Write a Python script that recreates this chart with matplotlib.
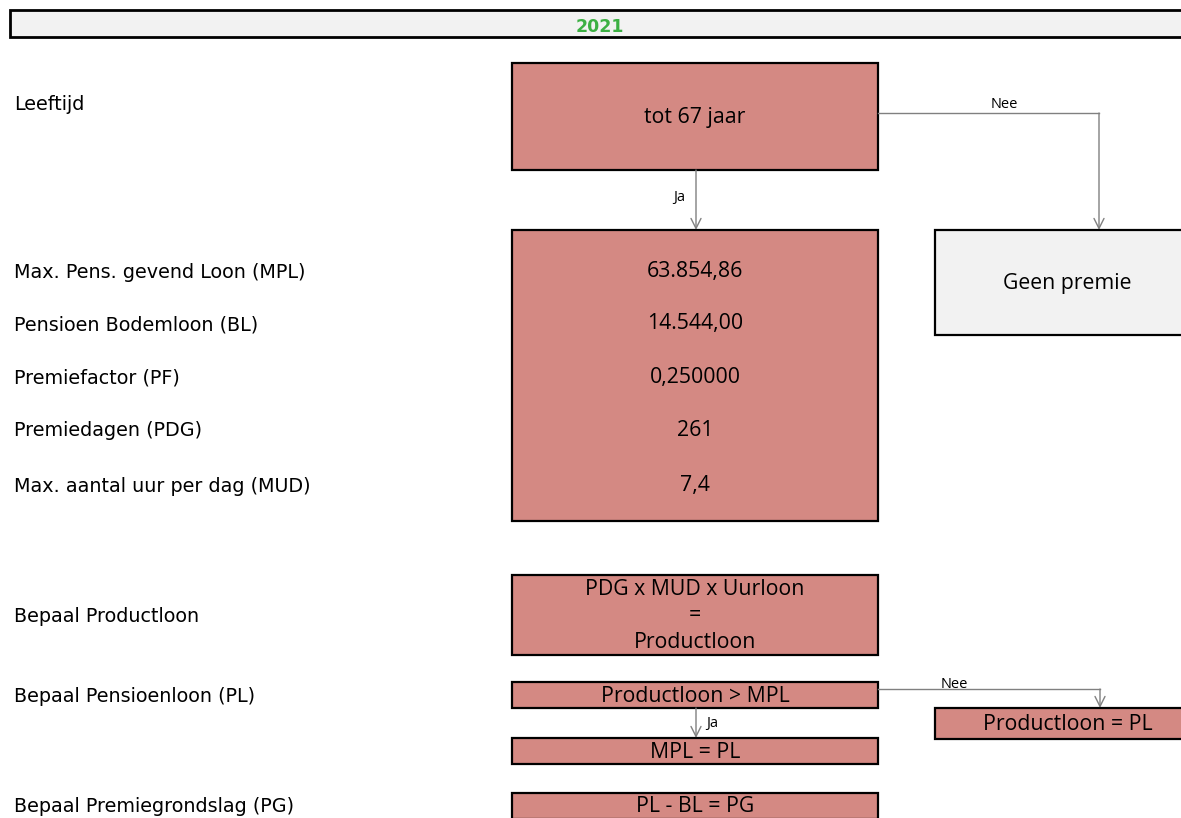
import matplotlib
matplotlib.use("Agg")
import matplotlib.pyplot as plt
from matplotlib.patches import Rectangle

# data
year = "2021"
leftLabels = [ "Leeftijd", "Max. Pens. gevend Loon (MPL)", "Pensioen Bodemloon (BL)",
               "Premiefactor (PF)", "Premiedagen (PDG)", "Max. aantal uur per dag (MUD)",
               "Bepaal Productloon", "Bepaal Pensioenloon (PL)", "Bepaal Premiegrondslag (PG)" ]
paramValues = [ "63.854,86", "14.544,00", "0,250000", "261", "7,4" ]
ageText = "tot 67 jaar"
noPremium = "Geen premie"
productFormula = "PDG x MUD x Uurloon\n=\nProductloon"
plCheck = "Productloon > MPL"
plYes = "MPL = PL"
plNo = "Productloon = PL"
pgFormula = "PL - BL = PG"
yesLabel = "Ja"
noLabel = "Nee"

W, H = 1181, 818
RED = "#d48983"
GREY = "#f2f2f2"
LINE = "#808080"
boxFont = "Open Sans"
boxSize = 15.3

fig = plt.figure( figsize = ( W / 100, H / 100 ), dpi = 100 )
ax = fig.add_axes( [ 0, 0, 1, 1 ] )
ax.set_xlim( 0, W )
ax.set_ylim( H, 0 )
ax.axis( "off" )

def box( x0, y0, x1, y1, color, text = None, size = boxSize, lw = 1.6 ):
    ax.add_patch( Rectangle(( x0, y0 ), x1 - x0, y1 - y0, facecolor = color,
                            edgecolor = "black", linewidth = lw, clip_on = False ))
    if text:
        ax.text(( x0 + x1 ) / 2, ( y0 + y1 ) / 2 + 1, text, ha = "center", va = "center",
                fontsize = size, family = boxFont, linespacing = 1.32 )

def arrow( points, label = None, lpos = None ):
    xs = [ p[ 0 ] for p in points ]
    ys = [ p[ 1 ] for p in points ]
    ax.plot( xs[ :-1 ], ys[ :-1 ], color = LINE, linewidth = 1 )
    ax.annotate( "", xy = points[ -1 ], xytext = points[ -2 ],
                 arrowprops = dict( arrowstyle = "->,head_length=0.6,head_width=0.3",
                                    color = LINE, lw = 1,
                                    shrinkA = 0, shrinkB = 0, mutation_scale = 12 ))
    if label:
        ax.text( lpos[ 0 ], lpos[ 1 ], label, fontsize = 10.5, family = boxFont,
                 ha = "center", va = "center" )

# title bar
ax.add_patch( Rectangle(( 10, 10 ), 1190, 27, facecolor = GREY, edgecolor = "black",
                        linewidth = 2, clip_on = True ))
ax.text( 600, 27, year, color = "#3cb043", fontweight = "bold", fontsize = 12.5,
         ha = "center", va = "center" )

# left labels
labelY = [ 105, 272, 325, 378, 431, 486, 617, 697, 806 ]
for lbl, y in zip( leftLabels, labelY ):
    ax.text( 14, y, lbl, fontsize = 13.8, va = "center", ha = "left" )

# age check
box( 512, 63, 878, 170, RED, ageText )
arrow( [( 696, 170 ), ( 696, 230 )], yesLabel, ( 679, 197 ))
arrow( [( 878, 113 ), ( 1099, 113 ), ( 1099, 230 )], noLabel, ( 1004, 104 ))
box( 935, 230, 1200, 335, GREY, noPremium )

# parameters
box( 512, 230, 878, 521, RED )
valueY = [ 270, 323, 377, 429, 485 ]
for v, y in zip( paramValues, valueY ):
    ax.text( 695, y + 1, v, fontsize = boxSize, family = boxFont, ha = "center", va = "center" )

# product wage
box( 512, 575, 878, 655, RED, productFormula )

# pension wage
box( 512, 682, 878, 708, RED, plCheck )
arrow( [( 696, 708 ), ( 696, 738 )], yesLabel, ( 712, 723 ))
box( 512, 738, 878, 764, RED, plYes )
arrow( [( 878, 689 ), ( 1100, 689 ), ( 1100, 708 )], noLabel, ( 954, 684 ))
box( 935, 708, 1200, 739, RED, plNo )

# premium base
box( 512, 793, 878, 819, RED, pgFormula )

fig.savefig( "out.png", dpi = 100 )
